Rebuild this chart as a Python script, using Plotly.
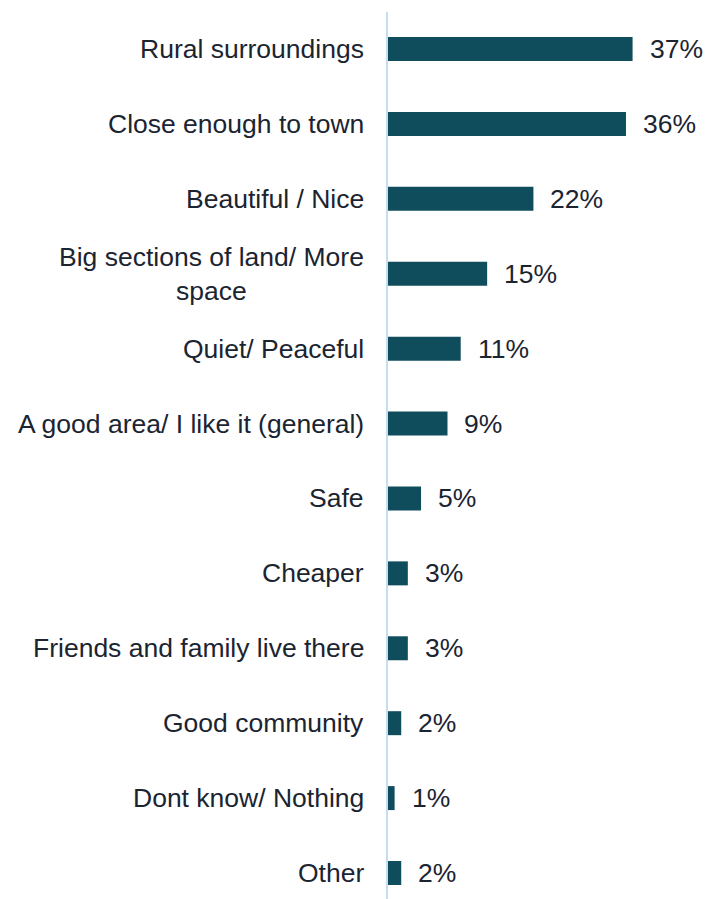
import plotly.graph_objects as go

# Reasons for liking the area, share of respondents (%)
categories = [
    "Rural surroundings",
    "Close enough to town",
    "Beautiful / Nice",
    "Big sections of land/ More<br>space",
    "Quiet/ Peaceful",
    "A good area/ I like it (general)",
    "Safe",
    "Cheaper",
    "Friends and family live there",
    "Good community",
    "Dont know/ Nothing",
    "Other",
]
values = [37, 36, 22, 15, 11, 9, 5, 3, 3, 2, 1, 2]
value_labels = [f"{v}%" for v in values]

BAR_COLOR = "#0F4C5C"
TEXT_COLOR = "#1B2431"
AXIS_COLOR = "#C6DDF0"
FONT = "Liberation Sans, Arial, sans-serif"
FONT_SIZE = 26.5

idx = list(range(len(categories)))

fig = go.Figure(
    go.Bar(
        x=values,
        y=idx,
        orientation="h",
        marker=dict(color=BAR_COLOR, line=dict(width=0)),
        hoverinfo="skip",
    )
)

annotations = []
# category labels, right-aligned against the axis, multi-line text centred
for i, cat in zip(idx, categories):
    annotations.append(dict(
        x=0, y=i, xref="x", yref="y",
        text=cat, showarrow=False,
        xanchor="right", yanchor="middle", align="center",
        xshift=-22,
        font=dict(family=FONT, size=FONT_SIZE, color=TEXT_COLOR),
    ))
# value labels at the end of each bar
for i, v, lab in zip(idx, values, value_labels):
    annotations.append(dict(
        x=v, y=i, xref="x", yref="y",
        text=lab, showarrow=False,
        xanchor="left", yanchor="middle",
        xshift=15,
        font=dict(family=FONT, size=FONT_SIZE, color=TEXT_COLOR),
    ))

fig.update_layout(
    width=708,
    height=899,
    margin=dict(l=388, r=8, t=12, b=0),
    paper_bgcolor="white",
    plot_bgcolor="white",
    bargap=0.68,
    showlegend=False,
    annotations=annotations,
    xaxis=dict(
        range=[0, 47.2],
        visible=False,
        fixedrange=True,
    ),
    yaxis=dict(
        range=[11.347, -0.494],
        showticklabels=False,
        showgrid=False,
        zeroline=False,
        showline=True,
        linecolor=AXIS_COLOR,
        linewidth=2,
        ticks="",
        fixedrange=True,
    ),
)

fig.write_html("out.html")
